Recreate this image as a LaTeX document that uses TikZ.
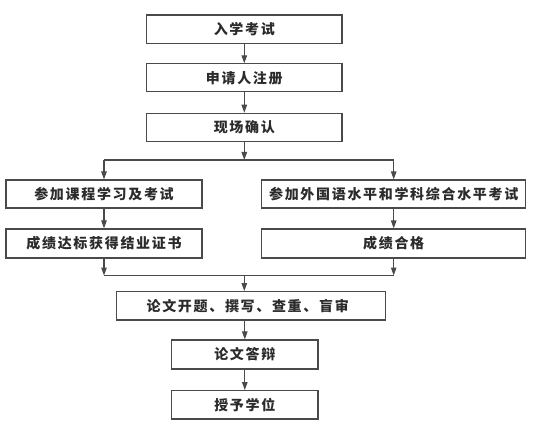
\documentclass[tikz,border=0pt]{standalone}
\usepackage{fontspec}
\newfontfamily\cjk{Noto Sans CJK SC}[LetterSpace=12]
\usetikzlibrary{arrows.meta}
\definecolor{linec}{HTML}{4A4A4A}
\definecolor{textc}{HTML}{2B2B2B}
\begin{document}
\begin{tikzpicture}[x=1pt,y=-1pt,
  box/.style={draw=linec, line width=1.2pt, rectangle, inner sep=0pt,
    text=textc, font=\cjk\bfseries\fontsize{14}{16}\selectfont},
  ln/.style={draw=linec, line width=1.1pt},
  arr/.style={ln, -{Triangle[length=8pt,width=5.5pt]}}]
\fill[white] (0,0) rectangle (538,433);
\useasboundingbox (0,0) rectangle (538,433);
\node[box, minimum width=195.3pt, minimum height=28.3pt] (n1) at (244.3,29.2) {入学考试};
\node[box, minimum width=195.3pt, minimum height=28pt] (n2) at (244.3,77.9) {申请人注册};
\node[box, minimum width=195.3pt, minimum height=28.3pt] (n3) at (244.3,127.5) {现场确认};
\node[box, minimum width=196pt, minimum height=28pt] (n4) at (104,194) {参加课程学习及考试};
\node[box, minimum width=264pt, minimum height=28pt] (n5) at (393.7,194) {参加外国语水平和学科综合水平考试};
\node[box, minimum width=196pt, minimum height=29pt] (n6) at (104,243.5) {成绩达标获得结业证书};
\node[box, minimum width=264pt, minimum height=29pt] (n7) at (393.7,243.5) {成绩合格};
\node[box, minimum width=269pt, minimum height=28.3pt] (n8) at (251.2,305.8) {\kern-7pt 论文开题、撰写、查重、盲审};
\node[box, minimum width=146.3pt, minimum height=29pt] (n9) at (244.8,354.5) {论文答辩};
\node[box, minimum width=146.3pt, minimum height=28.3pt] (n10) at (244.8,404.8) {授予学位};
\coordinate (jt) at (244.3,160);
\coordinate (jtl) at (104,160);
\coordinate (jtr) at (393.7,160);
\coordinate (jb) at (244.3,275.5);
\coordinate (jbl) at (104,275.5);
\coordinate (jbr) at (393.7,275.5);
\draw[arr] (n1) -- (n2);
\draw[arr] (n2) -- (n3);
\draw[arr] (n3.south) -- (jt);
\draw[ln] (jtl) -- (jtr);
\draw[arr] (jtl) -- (n4.north);
\draw[arr] (jtr) -- (n5.north);
\draw[arr] (n4) -- (n6);
\draw[arr] (n5) -- (n7);
\draw[arr] (n6.south) -- (jbl);
\draw[arr] (n7.south) -- (jbr);
\draw[ln] (jbl) -- (jbr);
\draw[arr] (jb) -- (jb |- n8.north);
\draw[arr] (n8.south -| n9.north) -- (n9.north);
\draw[arr] (n9) -- (n10);
\end{tikzpicture}
\end{document}
